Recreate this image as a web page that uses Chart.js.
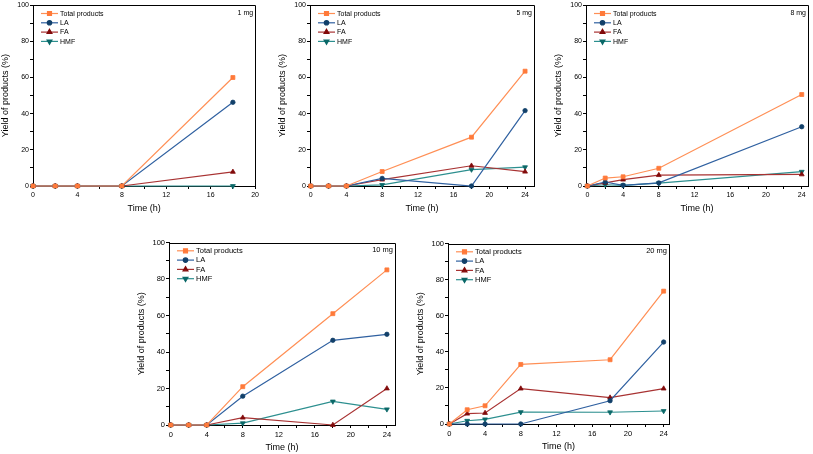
<!DOCTYPE html>
<html><head><meta charset="utf-8">
<script src="https://cdn.jsdelivr.net/npm/chart.js@4.4.0/dist/chart.umd.min.js"></script>
<style>
body{margin:0;background:#fff;width:813px;height:454px;overflow:hidden;position:relative}
canvas{position:absolute}
</style>
</head><body>
<script>
// ---------- data ----------
const seriesNames = ['Total products', 'LA', 'FA', 'HMF'];
const panelLabels = ['1 mg', '5 mg', '8 mg', '10 mg', '20 mg'];

const time_1mg  = [0, 2, 4, 8, 18];
const total_1mg = [0, 0, 0, 0, 60];
const la_1mg    = [0, 0, 0, 0, 46.3];
const fa_1mg    = [0, 0, 0, 0, 7.8];
const hmf_1mg   = [0, 0, 0, 0, 0];

const time_5mg  = [0, 2, 4, 8, 18, 24];
const total_5mg = [0, 0, 0, 8, 27, 63.5];
const la_5mg    = [0, 0, 0, 4.2, 0, 41.7];
const fa_5mg    = [0, 0, 0, 3.5, 11.2, 7.9];
const hmf_5mg   = [0, 0, 0, 0.6, 9.1, 10.4];

const time_8mg  = [0, 2, 4, 8, 24];
const total_8mg = [0, 4.4, 5.1, 9.8, 50.6];
const la_8mg    = [0, 2.2, 0.4, 1.7, 32.8];
const fa_8mg    = [0, 1.7, 3.5, 6, 6.4];
const hmf_8mg   = [0, 0.7, 0.4, 1.6, 7.9];

const time_10mg  = [0, 2, 4, 8, 18, 24];
const total_10mg = [0, 0, 0, 21, 61, 85];
const la_10mg    = [0, 0, 0, 15.8, 46.4, 49.7];
const fa_10mg    = [0, 0, 0, 4, 0, 20];
const hmf_10mg   = [0, 0, 0, 1, 12.9, 8.6];

const time_20mg  = [0, 2, 4, 8, 18, 24];
const total_20mg = [0, 7.9, 10.1, 33, 35.6, 73.6];
const la_20mg    = [0, 0, 0, 0, 12.9, 45.4];
const fa_20mg    = [0, 5.7, 6.1, 19.6, 14.6, 19.6];
const hmf_20mg   = [0, 1.8, 2.6, 6.6, 6.5, 7.2];

const xTicks_20 = [0, 2, 4, 6, 8, 10, 12, 14, 16, 18, 20];
const xTicks_24 = [0, 2, 4, 6, 8, 10, 12, 14, 16, 18, 20, 22, 24];
const yTicks    = [0, 10, 20, 30, 40, 50, 60, 70, 80, 90, 100];

// ---------- styles / layout ----------
const FAMILY = '"Liberation Sans", Arial, sans-serif';
const seriesStyle = [
  {line: '#FF8F55', marker: '#FF7A3A', pointStyle: 'rect', rotation: 0, radius: 2.8},
  {line: '#2F60A0', marker: '#12406A', pointStyle: 'circle', rotation: 0, radius: 2.2},
  {line: '#A83232', marker: '#820A0A', pointStyle: 'triangle', rotation: 0, radius: 2.8},
  {line: '#2C8F8F', marker: '#0B6868', pointStyle: 'triangle', rotation: 180, radius: 2.8}
];

const panels = [
  {label: panelLabels[0], time: time_1mg, series: [total_1mg, la_1mg, fa_1mg, hmf_1mg], xTicks: xTicks_20,
   xMin: 0, xMax: 20, L: 33, R: 256, T: 5, B: 186, fs: 7},
  {label: panelLabels[1], time: time_5mg, series: [total_5mg, la_5mg, fa_5mg, hmf_5mg], xTicks: xTicks_24,
   xMin: -0.08, xMax: 25, L: 310, R: 534, T: 5, B: 186, fs: 7},
  {label: panelLabels[2], time: time_8mg, series: [total_8mg, la_8mg, fa_8mg, hmf_8mg], xTicks: xTicks_24,
   xMin: -0.15, xMax: 24.7, L: 586, R: 808, T: 5, B: 186, fs: 7},
  {label: panelLabels[3], time: time_10mg, series: [total_10mg, la_10mg, fa_10mg, hmf_10mg], xTicks: xTicks_24,
   xMin: -0.19, xMax: 24.9, L: 169, R: 395, T: 241.5, B: 424.5, fs: 7.5},
  {label: panelLabels[4], time: time_20mg, series: [total_20mg, la_20mg, fa_20mg, hmf_20mg], xTicks: xTicks_24,
   xMin: -0.15, xMax: 24.6, L: 448, R: 669, T: 243, B: 424, fs: 7.5}
];

const Y_W = 33, X_H = 29, PAD_TOP = 5, PAD_RIGHT = 5;

const framePlugin = {
  id: 'frame',
  afterDraw(chart) {
    const {ctx, chartArea: a} = chart;
    const p = chart.options.plugins.frame;
    ctx.save();
    ctx.strokeStyle = '#000';
    ctx.lineWidth = 1;
    ctx.beginPath();
    ctx.moveTo(Math.round(a.left), Math.round(a.top) + 0.5);
    ctx.lineTo(Math.round(a.right) + 0.5, Math.round(a.top) + 0.5);
    ctx.lineTo(Math.round(a.right) + 0.5, Math.round(a.bottom));
    ctx.stroke();

    // panel label
    ctx.fillStyle = '#000';
    ctx.font = p.fs + 'px ' + FAMILY;
    ctx.textAlign = 'right';
    ctx.textBaseline = 'middle';
    ctx.fillText(p.label, a.right - 2, a.top + 7.5);

    // legend
    ctx.textAlign = 'left';
    chart.data.datasets.forEach((ds, i) => {
      const st = seriesStyle[i];
      const y = a.top + 8.3 + i * 9.3;
      const x0 = a.left + 8, x1 = a.left + 25;
      ctx.strokeStyle = st.line;
      ctx.lineWidth = 1.2;
      ctx.beginPath();
      ctx.moveTo(x0, y); ctx.lineTo(x1, y);
      ctx.stroke();
      ctx.fillStyle = st.marker;
      ctx.strokeStyle = st.marker;
      Chart.helpers.drawPoint(ctx, {pointStyle: st.pointStyle, radius: st.radius, rotation: st.rotation, borderWidth: 0.8}, (x0 + x1) / 2, y);
      ctx.fillStyle = '#000';
      ctx.fillText(ds.label, x1 + 2, y + 0.3);
    });
    ctx.restore();
  }
};

panels.forEach(p => {
  const cl = p.L - Y_W, ct = p.T - PAD_TOP;
  const cw = Math.round(p.R - cl + PAD_RIGHT);
  const ch = Math.round(p.B - ct + X_H);
  const cv = document.createElement('canvas');
  cv.width = cw; cv.height = ch;
  cv.style.left = cl + 'px'; cv.style.top = ct + 'px';
  cv.style.width = cw + 'px'; cv.style.height = ch + 'px';
  document.body.appendChild(cv);

  const datasets = p.series.map((vals, i) => ({
    label: seriesNames[i],
    data: p.time.map((t, k) => ({x: t, y: vals[k]})),
    borderColor: seriesStyle[i].line,
    backgroundColor: seriesStyle[i].marker,
    pointBackgroundColor: seriesStyle[i].marker,
    pointBorderColor: seriesStyle[i].marker,
    pointBorderWidth: 0.8,
    pointStyle: seriesStyle[i].pointStyle,
    pointRotation: seriesStyle[i].rotation,
    pointRadius: seriesStyle[i].radius,
    borderWidth: 1.2,
    tension: 0,
    clip: false
  }));

  const tickFont = {size: p.fs, family: FAMILY};
  const titleFont = {size: 9, family: FAMILY};

  new Chart(cv, {
    type: 'line',
    data: {datasets},
    plugins: [framePlugin],
    options: {
      responsive: false,
      animation: false,
      devicePixelRatio: 1,
      layout: {padding: {left: 0, top: PAD_TOP + (p.T - ct - PAD_TOP), right: cw - (p.R - cl), bottom: 0}},
      plugins: {
        legend: {display: false},
        tooltip: {enabled: false},
        frame: {label: p.label, fs: p.fs}
      },
      scales: {
        x: {
          type: 'linear', min: p.xMin, max: p.xMax,
          afterFit: s => { s.height = X_H; },
          afterBuildTicks: s => { s.ticks = p.xTicks.map(v => ({value: v})); },
          ticks: {autoSkip: false, maxRotation: 0, padding: 2, color: '#000', font: tickFont,
                  callback: v => (v % 4 === 0 ? String(v) : '')},
          grid: {drawOnChartArea: false, drawTicks: true, tickLength: 3, color: '#000', lineWidth: 1},
          border: {display: true, color: '#000', width: 1},
          title: {display: true, text: 'Time (h)', color: '#000', font: titleFont, padding: {top: 0, bottom: 0.6}}
        },
        y: {
          type: 'linear', min: 0, max: 100,
          afterFit: s => { s.width = Y_W; },
          afterBuildTicks: s => { s.ticks = yTicks.map(v => ({value: v})); },
          ticks: {autoSkip: false, padding: 1, color: '#000', font: tickFont,
                  callback: v => (v % 20 === 0 ? String(v) : '')},
          grid: {drawOnChartArea: false, drawTicks: true, tickLength: 3, color: '#000', lineWidth: 1},
          border: {display: true, color: '#000', width: 1},
          title: {display: true, text: 'Yield of products (%)', color: '#000', font: titleFont, padding: {top: 0.6, bottom: 0}}
        }
      }
    }
  });
});
</script>
</body></html>
